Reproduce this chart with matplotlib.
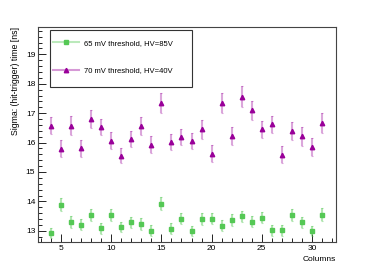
import numpy as np
import matplotlib.pyplot as plt
from matplotlib.ticker import MultipleLocator
from matplotlib.patches import Rectangle

plt.rcParams['font.family'] = ['Liberation Sans', 'DejaVu Sans']

columns = np.arange(4, 32)

sigma_65mv = np.array([12.93, 13.88, 13.30, 13.21, 13.53, 13.08, 13.53, 13.13, 13.29, 13.23,
                       13.01, 13.92, 13.07, 13.41, 13.00, 13.40, 13.41, 13.18, 13.37, 13.49,
                       13.31, 13.45, 13.02, 13.02, 13.54, 13.29, 13.00, 13.55])
err_65mv = np.array([0.18, 0.22, 0.19, 0.19, 0.20, 0.18, 0.20, 0.18, 0.19, 0.19,
                     0.18, 0.22, 0.19, 0.19, 0.18, 0.20, 0.19, 0.18, 0.19, 0.20,
                     0.19, 0.20, 0.18, 0.18, 0.20, 0.19, 0.18, 0.21])

sigma_70mv = np.array([16.58, 15.79, 16.58, 15.80, 16.80, 16.52, 16.07, 15.56, 16.12, 16.57,
                       15.93, 17.33, 16.03, 16.19, 16.04, 16.45, 15.62, 17.34, 16.23, 17.56,
                       17.10, 16.46, 16.63, 15.58, 16.40, 16.21, 15.86, 16.66])
err_70mv = np.array([0.29, 0.29, 0.31, 0.28, 0.31, 0.27, 0.30, 0.25, 0.26, 0.30,
                     0.28, 0.34, 0.27, 0.28, 0.27, 0.33, 0.29, 0.35, 0.30, 0.36,
                     0.32, 0.29, 0.29, 0.29, 0.30, 0.31, 0.30, 0.34])

fig = plt.figure(figsize=(3.74, 2.69), dpi=100)
ax = fig.add_axes([38/374, 1 - 242/269, (336-38)/374, (242-27)/269])

green = '#55c855'
purple = '#990099'

ax.errorbar(columns, sigma_65mv, yerr=err_65mv, fmt='none', ecolor=green, alpha=0.45,
            elinewidth=1.5, capsize=1, capthick=0.8)
ax.plot(columns, sigma_65mv, 's', color=green, markersize=3.2,
        label='65 mV threshold, HV=85V')
ax.errorbar(columns, sigma_70mv, yerr=err_70mv, fmt='none', ecolor=purple, alpha=0.35,
            elinewidth=1.5, capsize=1, capthick=0.8)
ax.plot(columns, sigma_70mv, '^', color=purple, markersize=3.2,
        label='70 mV threshold, HV=40V')

ax.set_xlim(2.7, 32.4)
ax.set_ylim(12.62, 19.93)
ax.xaxis.set_major_locator(MultipleLocator(5))
ax.xaxis.set_minor_locator(MultipleLocator(1))
ax.yaxis.set_major_locator(MultipleLocator(1))
ax.yaxis.set_minor_locator(MultipleLocator(0.2))
ax.tick_params(which='both', direction='in', top=False, right=False, labelsize=6, pad=2)
ax.tick_params(which='major', length=5.8, width=0.6)
ax.tick_params(which='minor', length=2.9, width=0.6)
for s in ax.spines.values():
    s.set_linewidth(0.8)
    s.set_color('#444444')

ax.set_ylabel('Sigma: (hit-trigger) time [ns]', fontsize=6.3)
ax.yaxis.set_label_coords(-0.062, 1.0)
ax.yaxis.label.set_horizontalalignment('right')
ax.set_xlabel('Columns', fontsize=6)
ax.xaxis.set_label_coords(1.0, -0.065)
ax.xaxis.label.set_horizontalalignment('right')

# legend box drawn separately so the padding matches
ax.add_patch(Rectangle((0.040, 0.721), 0.477, 0.265, transform=ax.transAxes,
                       facecolor='white', edgecolor='#333333', linewidth=0.8, zorder=4))
leg = ax.legend(loc='upper left', bbox_to_anchor=(0.052, 0.942), fontsize=5.5,
                frameon=False, borderpad=0, borderaxespad=0,
                labelspacing=2.65, handlelength=3.3, handletextpad=0.7)
leg.set_zorder(5)
for h, c in zip(leg.legend_handles, [green, purple]):
    h.set_linestyle('-')
    h.set_linewidth(1.5)
    h.set_color(plt.matplotlib.colors.to_rgba(c, 0.4))
    h.set_markerfacecolor(c)
    h.set_markeredgecolor(c)

fig.savefig('out.png', dpi=100)
